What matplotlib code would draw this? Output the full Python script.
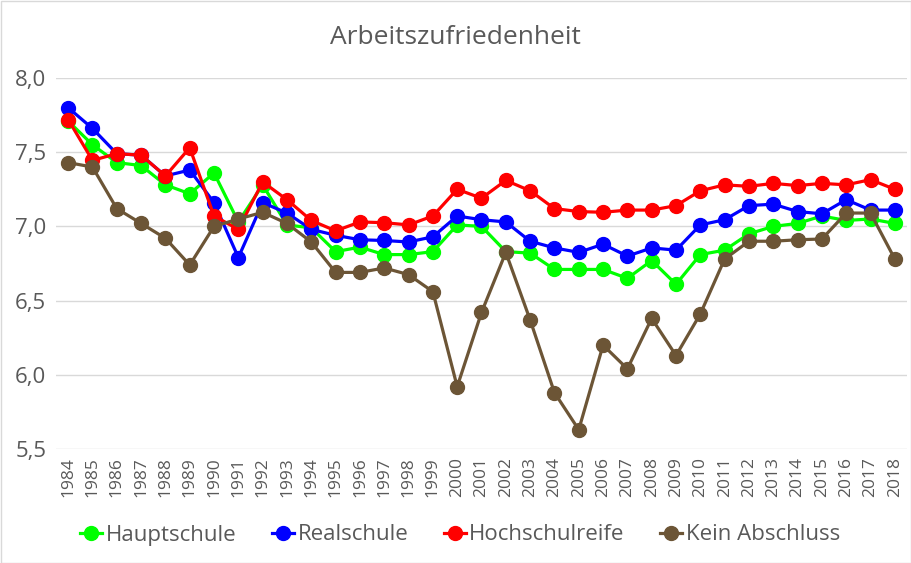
import matplotlib
matplotlib.use("Agg")
import matplotlib.pyplot as plt
from matplotlib.patches import Rectangle

years = [str(y) for y in range(1984, 2019)]

hauptschule = [7.71, 7.55, 7.43, 7.41, 7.28, 7.22, 7.36, 7.03, 7.28, 7.01,
               6.99, 6.83, 6.86, 6.81, 6.81, 6.83, 7.01, 7.00, 6.83, 6.82,
               6.71, 6.71, 6.71, 6.65, 6.77, 6.61, 6.81, 6.84, 6.95, 7.00,
               7.02, 7.07, 7.04, 7.05, 7.02]
realschule = [7.80, 7.66, 7.49, 7.48, 7.34, 7.38, 7.16, 6.79, 7.16, 7.09,
              6.98, 6.94, 6.91, 6.905, 6.895, 6.93, 7.07, 7.045, 7.03, 6.90,
              6.855, 6.825, 6.88, 6.80, 6.855, 6.84, 7.01, 7.045, 7.14, 7.15,
              7.10, 7.085, 7.18, 7.11, 7.11]
hochschulreife = [7.72, 7.445, 7.49, 7.48, 7.34, 7.53, 7.07, 6.98, 7.30, 7.18,
                  7.04, 6.97, 7.03, 7.025, 7.01, 7.07, 7.25, 7.19, 7.31, 7.24,
                  7.12, 7.10, 7.095, 7.11, 7.11, 7.14, 7.24, 7.28, 7.27, 7.29,
                  7.275, 7.29, 7.28, 7.315, 7.25]
kein_abschluss = [7.43, 7.40, 7.12, 7.02, 6.92, 6.74, 7.00, 7.05, 7.095, 7.02,
                  6.895, 6.69, 6.69, 6.72, 6.675, 6.56, 5.92, 6.42, 6.825, 6.37,
                  5.88, 5.63, 6.20, 6.04, 6.38, 6.13, 6.41, 6.78, 6.90, 6.90,
                  6.91, 6.915, 7.09, 7.09, 6.78]

series_names = ["Hauptschule", "Realschule", "Hochschulreife", "Kein Abschluss"]
series_colors = ["#00FF00", "#0000FF", "#FF0000", "#6C5536"]
yticks = [5.5, 6.0, 6.5, 7.0, 7.5, 8.0]
ytick_labels = ["5,5", "6,0", "6,5", "7,0", "7,5", "8,0"]

plt.rcParams['font.family'] = ['Open Sans', 'DejaVu Sans']
text_color = "#595959"

fig = plt.figure(figsize=(9.11, 5.63), dpi=100)
ax = fig.add_axes([56/911, 1 - 449/563, (907-56)/911, (449-78)/563])

x = list(range(len(years)))
for vals, name, col in zip([hauptschule, realschule, hochschulreife, kein_abschluss],
                           series_names, series_colors):
    ax.plot(x, vals, color=col, lw=2.3, marker='o', markersize=10, label=name,
            solid_joinstyle='round')

ax.set_xlim(-0.5, len(years) - 0.5)
ax.set_ylim(5.5, 8.0)
ax.set_yticks(yticks)
ax.set_yticklabels(ytick_labels, fontsize=16, color=text_color)
ax.set_xticks(x)
ax.set_xticklabels(years, rotation=90, fontsize=12.5, color=text_color)
ax.tick_params(axis='x', length=0, pad=6)
ax.tick_params(axis='y', length=0, pad=7)
ax.grid(axis='y', color='#D9D9D9', lw=1)
ax.set_axisbelow(True)
for s in ax.spines.values():
    s.set_visible(False)

fig.text(0.5, 1 - 37/563, "Arbeitszufriedenheit", ha='center', va='center',
         fontsize=19, color=text_color)

handles, labels = ax.get_legend_handles_labels()
leg = fig.legend(handles, labels, loc='center', bbox_to_anchor=(0.505, 1 - 535/563),
                 ncol=4, frameon=False, fontsize=16, handlelength=1.0,
                 columnspacing=1.6, handletextpad=0.15)
for t in leg.get_texts():
    t.set_color(text_color)

fig.patches.append(Rectangle((0.5/911, 0.5/563), 1 - 1/911, 1 - 1/563,
                             transform=fig.transFigure, fill=False,
                             edgecolor='#D9D9D9', lw=1))

fig.savefig("out.png", dpi=100)
